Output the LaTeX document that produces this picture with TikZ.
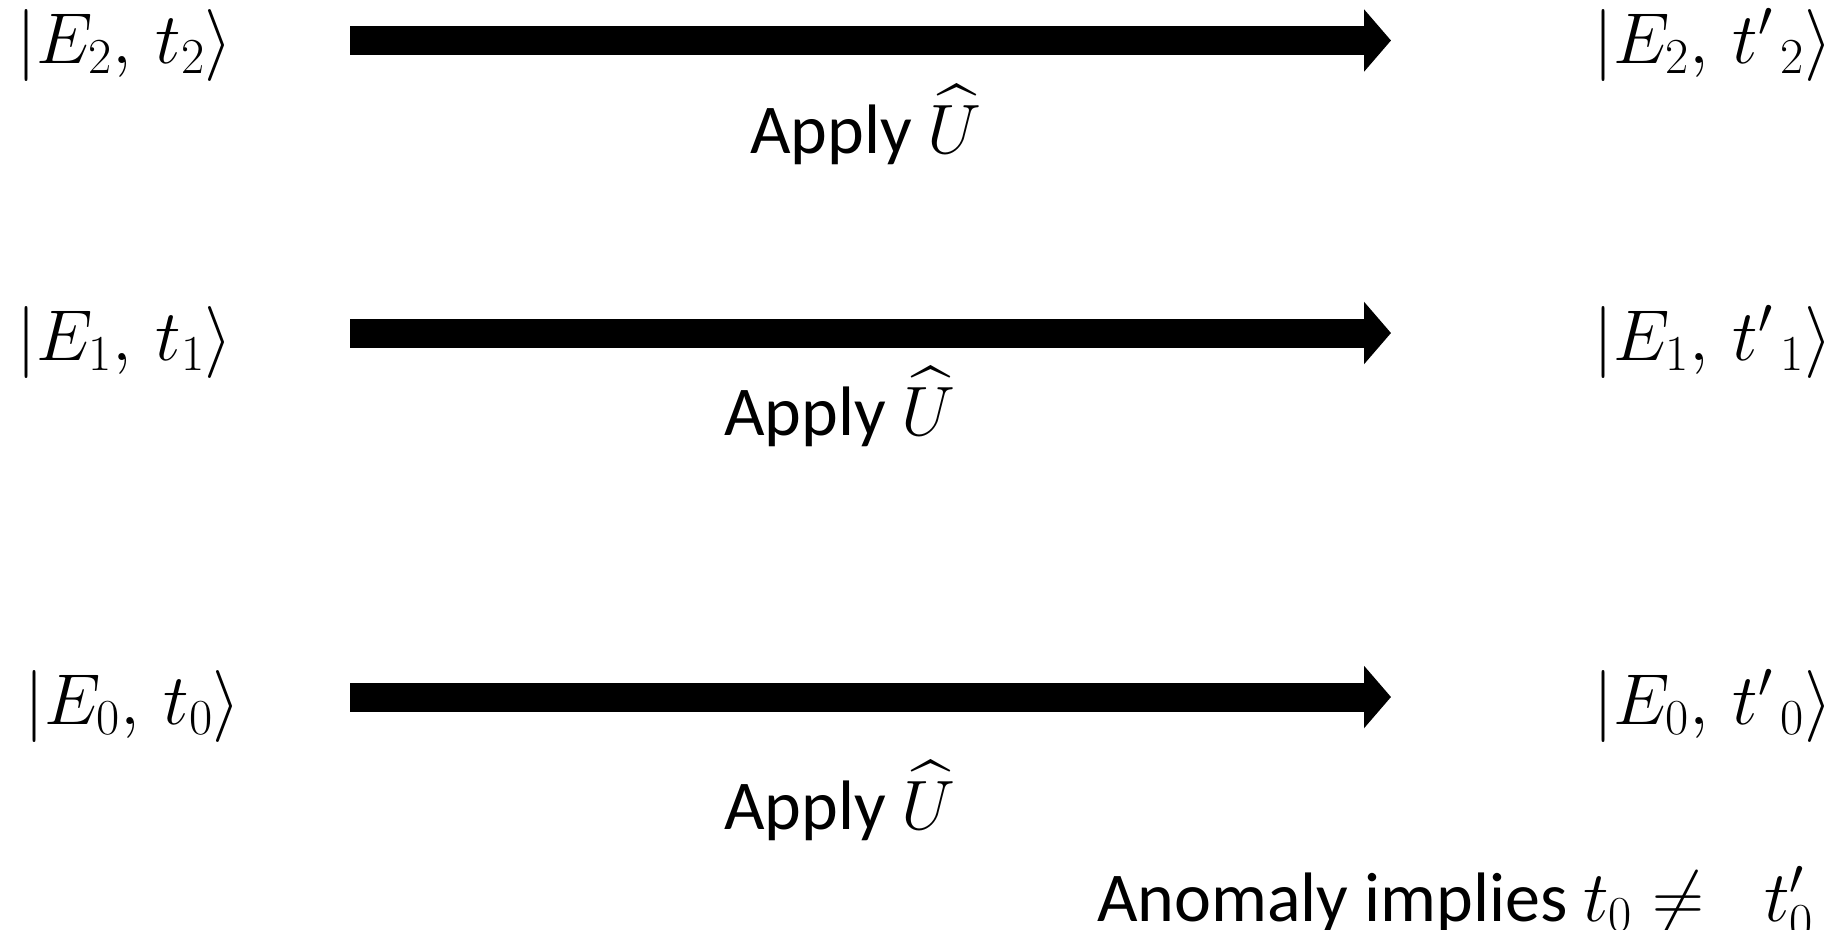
\RequirePackage{fix-cm}
\documentclass[tikz,border=0pt]{standalone}
\usepackage[no-math]{fontspec}
\setmainfont{Carlito}
\DeclareFontFamily{OMX}{cmex}{}
\DeclareFontShape{OMX}{cmex}{m}{n}{<-> cmex10}{}
\usetikzlibrary{arrows.meta}
\newcommand\opU{\widehat{U}}
\newcommand\tpr{{t'\mkern2mu}}
\begin{document}
\begin{tikzpicture}[x=1pt,y=-1pt,
  lbl/.style={anchor=base west, inner sep=0pt, font=\fontsize{72}{86}\selectfont},
  caption/.style={anchor=base, inner sep=0pt, font=\fontsize{70}{84}\selectfont},
  bigarrow/.style={line width=29pt, -{Triangle[length=27pt,width=61pt]}}]
\useasboundingbox (0,0) rectangle (1843,929);
% left states
\node[lbl] (l2) at (16,63) {$|E_2,\, t_2\rangle$};
\node[lbl] (l1) at (16,360) {$|E_1,\, t_1\rangle$};
\node[lbl] (l0) at (24,724) {$|E_0,\, t_0\rangle$};
% right states
\node[lbl] (r2) at (1593,63) {$|E_2,\, \tpr_2\rangle$};
\node[lbl] (r1) at (1593,360) {$|E_1,\, \tpr_1\rangle$};
\node[lbl] (r0) at (1593,724) {$|E_0,\, \tpr_0\rangle$};
% arrow ends
\coordinate (s2) at (350,40.5);  \coordinate (e2) at (1391,40.5);
\coordinate (s1) at (350,333);   \coordinate (e1) at (1391,333);
\coordinate (s0) at (350,697);   \coordinate (e0) at (1391,697);
\draw[bigarrow] (s2) -- (e2);
\draw[bigarrow] (s1) -- (e1);
\draw[bigarrow] (s0) -- (e0);
% captions
\node[caption] (a2) at (866,153) {Apply $\opU$};
\node[caption] (a1) at (840,435) {Apply $\opU$};
\node[caption] (a0) at (840,829) {Apply $\opU$};
\node[caption, anchor=base west] (an) at (1097,921) {Anomaly implies {\fontsize{72}{86}\selectfont$t_0 \neq\;\; t'_0$}};
\end{tikzpicture}
\end{document}
